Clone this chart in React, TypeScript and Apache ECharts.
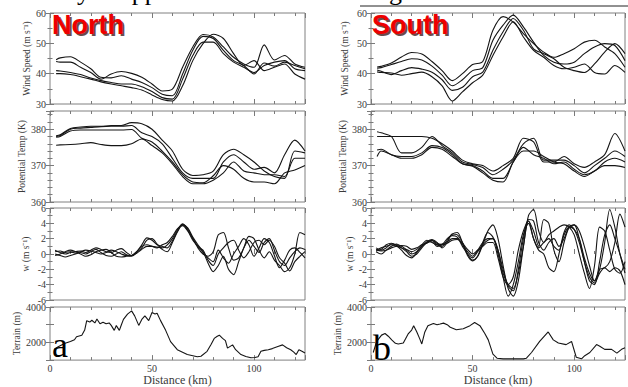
import React, { useEffect, useRef } from "react";
import * as echarts from "echarts";

const SERIF = "'Liberation Serif', 'Times New Roman', serif";

// ---- distance grids (km)
const distance5 = [3, 5, 10, 15, 20, 25, 30, 35, 40, 45, 50, 55, 60, 65, 70, 75, 80, 85, 90, 95, 100, 105, 110, 115, 120, 125];
const distance25 = [2.5, 5, 7.5, 10, 12.5, 15, 17.5, 20, 22.5, 25, 27.5, 30, 32.5, 35, 37.5, 40, 42.5, 45, 47.5, 50,
  52.5, 55, 57.5, 60, 62.5, 65, 67.5, 70, 72.5, 75, 77.5, 80, 82.5, 85, 87.5, 90, 92.5, 95, 97.5, 100,
  102.5, 105, 107.5, 110, 112.5, 115, 117.5, 120, 122.5, 125];

// ---- North: wind speed (m/s)
const windNorth1 = [44.6, 45.2, 45.6, 43.8, 41.6, 38.8, 38.6, 39.3, 38.2, 37.1, 35.4, 33.2, 32.7, 39.9, 47.7, 52.3, 51.6, 47.7, 44.3, 42.7, 39.9, 43.5, 42.5, 43.8, 42.7, 41.6];
const windNorth2 = [44.0, 43.8, 43.8, 42.1, 40.4, 38.2, 39.9, 40.7, 40.1, 38.8, 36.6, 34.3, 34.9, 42.1, 48.8, 52.9, 52.1, 48.8, 45.4, 43.2, 42.1, 49.5, 44.5, 46.0, 43.2, 42.1];
const windNorth3 = [41.0, 40.9, 40.4, 39.7, 38.6, 37.7, 37.1, 36.6, 36.6, 35.7, 34.1, 32.1, 31.6, 38.2, 46.0, 50.4, 50.4, 46.6, 43.8, 42.1, 40.4, 42.7, 43.8, 44.3, 41.6, 41.0];
const windNorth4 = [40.0, 40.0, 39.7, 39.0, 38.2, 37.3, 36.6, 36.0, 35.4, 34.6, 33.0, 31.5, 31.0, 36.0, 44.3, 49.9, 53.0, 51.6, 46.6, 42.7, 44.3, 41.0, 42.1, 43.2, 39.9, 38.2];

// ---- South: wind speed (m/s)
const windSouth1 = [42.2, 42.4, 43.5, 45.5, 47.0, 46.5, 44.0, 41.0, 37.7, 40.0, 43.0, 44.0, 54.3, 58.8, 57.0, 53.2, 49.9, 47.1, 45.4, 46.6, 48.2, 50.4, 51.0, 48.8, 46.6, 42.1];
const windSouth2 = [41.8, 42.0, 43.0, 44.0, 44.9, 44.5, 42.5, 39.5, 36.0, 38.0, 41.0, 42.0, 51.0, 56.0, 59.3, 55.4, 50.4, 46.0, 43.8, 43.2, 43.8, 46.6, 48.8, 49.9, 49.3, 44.3];
const windSouth3 = [41.2, 40.8, 39.7, 41.0, 42.0, 41.5, 40.5, 38.0, 34.5, 35.5, 39.0, 40.5, 47.7, 53.8, 58.2, 54.3, 48.2, 46.6, 44.9, 42.1, 41.0, 40.4, 43.2, 47.1, 49.9, 46.6];
const windSouth4 = [40.6, 40.4, 40.2, 39.5, 40.0, 40.5, 39.0, 36.0, 31.0, 34.0, 37.0, 39.5, 46.0, 52.1, 57.1, 52.1, 47.7, 45.4, 42.7, 41.6, 42.1, 43.2, 40.4, 39.9, 42.7, 40.4];

// ---- North: potential temperature (K)
const tempNorth1 = [378.2, 378.5, 380.2, 380.6, 380.8, 380.8, 381.0, 381.0, 381.8, 381.5, 380.0, 377.0, 374.0, 369.0, 367.3, 367.5, 368.5, 373.0, 374.5, 373.0, 371.0, 368.5, 367.0, 366.5, 374.0, 373.5];
const tempNorth2 = [378.0, 378.3, 380.0, 380.3, 380.5, 380.7, 380.8, 380.8, 381.0, 379.0, 378.0, 376.0, 372.0, 368.0, 366.5, 366.5, 366.5, 371.0, 373.0, 371.0, 369.0, 369.5, 368.0, 373.0, 377.0, 374.0];
const tempNorth3 = [377.8, 378.0, 379.5, 379.8, 379.8, 379.8, 379.8, 379.8, 379.9, 377.5, 376.5, 374.0, 371.0, 367.5, 365.5, 365.3, 367.2, 370.0, 369.0, 366.5, 365.5, 365.5, 365.0, 368.0, 368.8, 370.0];
const tempNorth4 = [375.6, 375.7, 375.8, 376.0, 376.3, 375.8, 375.5, 375.5, 376.0, 377.3, 375.5, 373.5, 370.5, 367.0, 365.0, 365.0, 366.0, 368.0, 371.0, 368.5, 368.0, 367.5, 367.5, 367.0, 372.0, 372.0];

// ---- South: potential temperature (K)
const tempSouth1 = [378.0, 378.0, 378.0, 378.0, 378.0, 378.0, 377.5, 376.0, 374.0, 371.5, 370.5, 370.0, 368.5, 370.0, 372.0, 377.5, 376.5, 371.0, 371.0, 372.5, 370.5, 369.5, 371.0, 373.0, 378.8, 374.0];
const tempSouth2 = [379.3, 379.0, 378.0, 373.5, 373.5, 375.0, 378.0, 375.5, 373.5, 371.0, 370.3, 369.5, 367.5, 369.0, 371.5, 376.0, 377.5, 371.5, 371.5, 371.5, 370.0, 368.0, 370.0, 372.0, 374.0, 372.5];
const tempSouth3 = [374.3, 374.5, 373.0, 372.5, 372.5, 373.5, 375.5, 375.0, 373.0, 370.5, 370.0, 368.5, 366.5, 366.5, 371.0, 375.0, 373.0, 372.0, 370.5, 371.0, 369.0, 367.5, 368.5, 371.0, 372.0, 371.0];
const tempSouth4 = [372.5, 374.0, 373.0, 372.0, 372.0, 373.0, 375.0, 374.5, 372.5, 370.5, 369.8, 368.0, 366.0, 365.5, 371.0, 374.0, 374.0, 372.5, 371.0, 370.5, 368.5, 367.0, 368.5, 370.0, 370.0, 369.5];

// ---- North: vertical velocity w (m/s)
const wNorth1 = [0.5, 0.2, 0.0, 0.2, 0.3, 0.4, 0.2, 0.5, 0.8, 0.6, 0.3, 0.2, 0.5, 0.7, 0.2, -0.2, 0.3, 1.2, 2.1, 1.8, 1.2, 1.0, 0.8, 1.7, 3.0, 3.9, 3.3, 2.0, 0.8,
  0.0, -0.3, 0.3, 2.5, 2.8, 0.8, -0.8, -0.5, 0.8, 2.3, 2.0, 0.5, -0.5, 0.3, -0.8, -1.5, -2.3, -1.8, 0.0, 2.8, 2.5];
const wNorth2 = [0.0, -0.2, -0.4, -0.2, 0.0, 0.2, 0.0, 0.3, 0.6, 0.2, -0.2, -0.3, 0.0, 0.3, -0.1, -0.3, 0.2, 0.8, 1.8, 2.0, 1.3, 0.6, 0.3, 1.5, 2.9, 3.8, 3.4, 2.2, 1.2,
  0.3, -1.2, -2.3, -1.5, -0.3, -2.0, -2.7, -1.0, 0.8, 1.8, 1.0, 0.2, 1.5, 2.0, 0.5, -1.0, -1.5, -0.5, 0.3, 0.8, 0.6];
const wNorth3 = [0.3, 0.4, 0.2, 0.3, 0.1, 0.3, 0.5, 0.4, 0.2, 0.0, 0.2, 0.5, 0.3, 0.0, -0.2, -0.2, 0.1, 0.6, 1.0, 1.0, 0.9, 0.8, 1.2, 2.0, 3.2, 3.9, 3.1, 2.0, 1.0,
  0.5, -0.8, -1.5, 0.0, 0.8, 1.5, 1.8, 0.5, -0.5, 0.3, 1.5, 1.8, 1.2, 1.8, 1.0, -0.5, -1.2, -2.2, -1.0, -0.3, 0.3];
const wNorth4 = [-0.2, 0.0, 0.3, 0.5, 0.3, 0.0, -0.3, -0.1, 0.3, 0.5, 0.6, 0.2, -0.3, -0.4, -0.3, -0.2, 0.3, 1.0, 1.2, 1.0, 0.8, 1.2, 1.5, 2.3, 3.3, 3.7, 3.0, 1.8, 1.0,
  0.2, -0.5, -1.0, 0.5, -0.5, -1.2, 0.0, 1.0, 2.0, 1.2, -0.3, 0.8, 2.0, 1.5, -0.2, -1.8, -0.8, 0.5, 0.8, 0.2, -0.5];

// ---- South: vertical velocity w (m/s)
const wSouth1 = [0.5, 0.8, 1.0, 1.2, 1.0, 0.8, 0.3, -0.3, 0.0, 0.8, 1.5, 1.8, 1.2, 1.0, 1.8, 2.6, 2.8, 1.5, 0.0, -0.8, -0.3, 1.2, 3.0, 3.8, 2.0, -1.5, -4.5, -5.5, -3.5,
  1.0, 5.0, 5.8, 3.0, 1.5, 2.5, 3.0, 3.5, 3.8, 3.5, 2.5, 0.0, -2.5, -4.5, -1.5, 3.5, 3.0, 0.5, -2.0, -2.5, -1.0];
const wSouth2 = [0.8, 0.5, 0.8, 1.3, 1.2, 0.8, 0.5, 0.0, 0.3, 1.0, 1.5, 1.6, 1.0, 1.2, 2.0, 2.4, 2.2, 1.2, 0.3, -0.3, 0.5, 1.5, 2.0, 2.0, 0.5, -2.5, -4.0, -4.5, -2.5,
  1.0, 4.3, 3.0, 1.0, 4.5, 4.0, 0.5, -1.0, 1.5, 3.5, 3.8, 2.0, -1.0, -3.5, -4.0, -1.0, 2.5, 3.8, 2.0, 0.0, -2.0];
const wSouth3 = [0.3, 0.0, 0.5, 1.0, 1.3, 1.0, 0.6, 0.3, 0.6, 1.2, 1.8, 1.5, 1.2, 1.3, 1.6, 2.0, 2.0, 1.0, 0.0, -0.5, 0.3, 1.2, 1.8, 2.0, 0.0, -3.0, -5.5, -4.0, -1.0,
  2.5, 4.0, 2.0, 0.5, 0.0, -1.8, -2.3, 0.0, 2.8, 3.8, 3.2, 1.5, -1.0, -3.0, -3.8, -2.5, -1.8, -2.3, -1.8, -2.2, -4.0];
const wSouth4 = [0.6, 0.4, 0.5, 0.8, 1.0, 1.1, 1.0, 0.6, 0.8, 1.2, 1.4, 1.8, 1.4, 1.2, 1.4, 1.8, 1.9, 1.4, 0.6, 0.0, 0.5, 1.0, 1.5, 1.5, -0.5, -3.0, -4.0, -3.0, 0.5,
  3.0, 4.3, 2.0, 0.8, 1.5, 2.0, 1.0, 0.5, 2.5, 3.5, 3.2, 2.0, -0.5, -2.5, -3.5, -2.0, -1.8, -1.0, 1.5, 5.2, 3.5];
const wSouth5 = [0.4, 0.6, 1.2, 1.4, 1.1, 0.5, -0.2, -0.5, 0.2, 1.0, 1.6, 1.9, 1.5, 0.8, 1.5, 2.6, 2.5, 1.5, -0.2, -0.9, -0.3, 1.5, 2.8, 2.2, 0.5, -2.0, -4.2, -4.8, -2.0,
  2.0, 4.5, 4.3, 1.5, 0.5, 1.5, 2.0, 1.0, 2.0, 3.5, 3.8, 3.0, 1.0, -1.5, -3.5, -2.0, 1.5, 5.8, 3.5, 0.0, -2.5];

// ---- Terrain (m)
const terrainNorthKm = [2, 4, 7.4, 10, 12, 13, 15.6, 17, 18, 19.5, 20.5, 22, 23, 24.5, 26, 27.5, 29, 30, 31.5, 32.5, 34, 35, 36, 38, 40, 41.5, 43.5, 45, 46.5, 48.4, 50, 51.5, 52.5, 54.2, 56.7, 59.1, 62.4, 67.3, 72.2, 74, 77, 79, 80.5, 82, 83, 84.6, 86, 87, 89.5, 91, 93.6, 96, 98.5, 100.5, 102, 103.4, 105, 107, 109, 111.7, 114, 116, 118, 119.5, 120.7, 122, 123.5, 125];
const terrainNorthM = [1600, 1750, 1950, 2050, 2150, 2320, 2400, 2700, 3230, 3150, 3250, 3100, 3320, 3050, 3140, 3050, 3100, 2960, 2680, 2950, 2680, 3000, 3300, 3600, 3780, 3500, 2960, 3300, 3500, 3230, 3690, 3600, 3650, 3230, 2680, 2044, 1587, 1313, 1185, 1220, 1495, 1900, 2227, 2350, 2410, 2227, 2100, 1678, 1861, 1587, 1313, 1200, 1130, 1150, 1185, 1495, 1550, 1587, 1650, 1770, 1861, 1700, 1587, 1450, 1313, 1587, 1500, 1404];
const terrainSouthKm = [1.1, 2.8, 5.2, 6.9, 8.5, 10.2, 12, 13.4, 15.9, 18.4, 20, 21, 22.5, 24, 25, 26.5, 28, 30.7, 32.5, 34, 35.7, 37.5, 39, 42, 45.4, 48.7, 51, 53.6, 56, 57.7, 60, 62, 65, 70, 75, 76.5, 79, 83, 87.2, 89.7, 92.2, 96, 98.7, 101, 103.6, 105.2, 107.7, 111, 112.6, 115, 118.4, 121, 123.3, 125];
const terrainSouthM = [1430, 2054, 2411, 2500, 2350, 2143, 1950, 1911, 1964, 2500, 2700, 2946, 2600, 2200, 1911, 2589, 2946, 3071, 3000, 3036, 3089, 3000, 2857, 2714, 2768, 2946, 3125, 2946, 2500, 2143, 1339, 1107, 1071, 1071, 1071, 1107, 1429, 2054, 2589, 2143, 1964, 1875, 2054, 1161, 1071, 1250, 1429, 1875, 1786, 1607, 1607, 1393, 1607, 1696];

// ---- tick labels / axis titles
const distanceLabels = [0, 50, 100];
const terrainLabels = [2000, 4000];
const rowTitles = ["Wind Speed (m s\u207B\u00B9)", "Potential Temp (K)", "w (m s\u207B\u00B9)", "Terrain (m)"];
const panelTitles = ["North", "South"];
const panelLetters = ["a", "b"];

const pairs = (xs: number[], ys: number[]) => xs.map((x, i) => [x, ys[i]]);

export default function App() {
  const ref = useRef<HTMLDivElement>(null);
  useEffect(() => {
    const chart = echarts.init(ref.current!, null, { renderer: "svg" });

    const colLeft = [50, 371];
    const colWidth = [255, 254];
    const rows = [
      { top: 13, height: 91 },
      { top: 111, height: 91 },
      { top: 208, height: 92 },
      { top: 307, height: 55 },
    ];
    const rowAxis = [
      { min: 30, max: 60, interval: 10, minor: 2, fmt: (v: number) => String(v) },
      { min: 360, max: 385, interval: 10, minor: 5, fmt: (v: number) => (v % 10 === 0 ? String(v) : "") },
      { min: -6, max: 6, interval: 2, minor: 2, fmt: (v: number) => String(v) },
      { min: 1000, max: 4000, interval: 1000, minor: 0, fmt: (v: number) => (terrainLabels.includes(v) ? String(v) : "") },
    ];
    const nameGaps = [
      [18, 21, 19, 28],
      [21, 22, 12, 28],
    ];
    const dataSets = [
      [
        { xs: distance5, lines: [windNorth1, windNorth2, windNorth3, windNorth4], smooth: 0.3 },
        { xs: distance5, lines: [tempNorth1, tempNorth2, tempNorth3, tempNorth4], smooth: 0.3 },
        { xs: distance25, lines: [wNorth1, wNorth2, wNorth3, wNorth4], smooth: 0.3 },
        { xs: terrainNorthKm, lines: [terrainNorthM], smooth: false },
      ],
      [
        { xs: distance5, lines: [windSouth1, windSouth2, windSouth3, windSouth4], smooth: 0.3 },
        { xs: distance5, lines: [tempSouth1, tempSouth2, tempSouth3, tempSouth4], smooth: 0.3 },
        { xs: distance25, lines: [wSouth1, wSouth2, wSouth3, wSouth4, wSouth5], smooth: 0.3 },
        { xs: terrainSouthKm, lines: [terrainSouthM], smooth: false },
      ],
    ];

    const grid: any[] = [];
    const xAxis: any[] = [];
    const yAxis: any[] = [];
    const series: any[] = [];
    const tickColor = "#7a7a7a";
    const labelStyle = { fontFamily: SERIF, fontSize: 10, color: "#3a3a3a" };

    for (let c = 0; c < 2; c++) {
      for (let r = 0; r < 4; r++) {
        const gi = grid.length;
        grid.push({
          left: colLeft[c],
          width: colWidth[c],
          top: rows[r].top,
          height: rows[r].height,
          show: true,
          borderColor: "#808080",
          borderWidth: 1,
          backgroundColor: "transparent",
        });
        const xBase = (pos: string, interval: number, len: number, withLabel: boolean) => ({
          type: "value",
          gridIndex: gi,
          position: pos,
          min: 0,
          max: 125,
          interval,
          axisLine: { show: false },
          splitLine: { show: false },
          axisTick: { show: true, inside: true, length: len, lineStyle: { color: tickColor } },
          axisLabel: {
            show: withLabel,
            margin: 3,
            ...labelStyle,
            formatter: (v: number) => (distanceLabels.includes(v) ? String(v) : ""),
          },
        });
        const xi = xAxis.length;
        const bottomMinor: any = xBase("bottom", 10, 3, r === 3);
        if (r === 3) {
          bottomMinor.name = "Distance (km)";
          bottomMinor.nameLocation = "middle";
          bottomMinor.nameGap = 13;
          bottomMinor.nameTextStyle = { fontFamily: SERIF, fontSize: 12, color: "#3a3a3a" };
        }
        xAxis.push(bottomMinor);
        xAxis.push(xBase("bottom", 50, 5, false));
        xAxis.push(xBase("top", 10, 3, false));
        xAxis.push(xBase("top", 50, 5, false));

        const ra = rowAxis[r];
        const yi = yAxis.length;
        const yBase = (pos: string, withLabel: boolean) => ({
          type: "value",
          gridIndex: gi,
          position: pos,
          min: ra.min,
          max: ra.max,
          interval: ra.interval,
          axisLine: { show: false },
          splitLine: { show: false },
          axisTick: { show: true, inside: true, length: 4, lineStyle: { color: tickColor } },
          minorTick: { show: ra.minor > 0, splitNumber: ra.minor || 5, length: 2.5, lineStyle: { color: tickColor } },
          axisLabel: { show: withLabel, margin: 4, ...labelStyle, formatter: ra.fmt },
        });
        const yl: any = yBase("left", true);
        yl.name = rowTitles[r];
        yl.nameLocation = "middle";
        yl.nameGap = nameGaps[c][r];
        yl.nameRotate = 90;
        yl.nameTextStyle = { fontFamily: SERIF, fontSize: 9.5, color: "#3a3a3a" };
        yAxis.push(yl);
        yAxis.push(yBase("right", false));

        const ds = dataSets[c][r];
        ds.lines.forEach((ys) => {
          series.push({
            type: "line",
            xAxisIndex: xi,
            yAxisIndex: yi,
            data: pairs(ds.xs, ys),
            showSymbol: false,
            smooth: ds.smooth,
            lineStyle: { width: 1.1, color: "#151515" },
            silent: true,
          });
        });
      }
    }

    const graphic: any[] = [
      {
        type: "text",
        x: 12,
        y: -9,
        style: { text: "activity is apparent in the horizon segment.", font: `26px ${SERIF}`, fill: "#000", verticalAlign: "middle", align: "left" },
        z: 50,
      },
      { type: "line", shape: { x1: 360, y1: 6, x2: 628, y2: 6 }, style: { stroke: "#222", lineWidth: 1 }, z: 50 },
    ];
    const titleX = [52, 372];
    panelTitles.forEach((t, c) => {
      graphic.push({
        type: "text",
        x: titleX[c] + 2,
        y: 27,
        style: { text: t, font: "bold 27px 'Liberation Sans', Arial, sans-serif", fill: "#3a1010", opacity: 0.75, verticalAlign: "middle", align: "left" },
        z: 60,
      });
      graphic.push({
        type: "text",
        x: titleX[c],
        y: 25,
        style: { text: t, font: "bold 27px 'Liberation Sans', Arial, sans-serif", fill: "#ee0000", verticalAlign: "middle", align: "left" },
        z: 61,
      });
    });
    const letterPos = [
      [52, 345],
      [373, 348],
    ];
    panelLetters.forEach((t, c) => {
      graphic.push({
        type: "text",
        x: letterPos[c][0],
        y: letterPos[c][1],
        style: { text: t, font: `36px ${SERIF}`, fill: "#000", verticalAlign: "middle", align: "left" },
        z: 60,
      });
    });

    chart.setOption({
      animation: false,
      backgroundColor: "#ffffff",
      grid,
      xAxis,
      yAxis,
      series,
      graphic,
    });
    return () => chart.dispose();
  }, []);

  return <div ref={ref} style={{ position: "fixed", left: 0, top: 0, width: 628, height: 387 }} />;
}
